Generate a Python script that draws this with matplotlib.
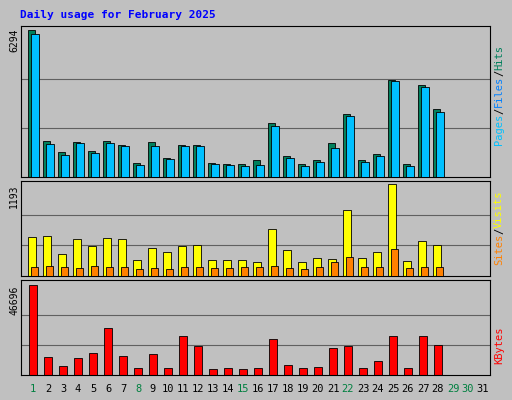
import matplotlib
matplotlib.use("Agg")
import matplotlib.pyplot as plt
import numpy as np

days = np.arange(1, 32)
n = 28
hits = [6294, 1542, 1084, 1500, 1125, 1542, 1375, 584, 1500, 834, 1375, 1375, 584, 542,
        542, 750, 2334, 917, 542, 709, 1459, 2709, 709, 1000, 4168, 542, 3960, 2918]
files = [6150, 1417, 959, 1459, 1042, 1459, 1334, 500, 1334, 792, 1334, 1334, 542, 500,
         459, 500, 2209, 834, 459, 625, 1250, 2626, 625, 917, 4126, 459, 3876, 2793]
visits = [500, 513, 282, 475, 385, 487, 475, 205, 359, 308, 385, 398, 205, 205,
          205, 180, 603, 334, 180, 231, 220, 860, 231, 308, 1193, 192, 449, 398]
sites = [115, 125, 110, 105, 130, 120, 115, 90, 100, 95, 110, 110, 100, 100,
         120, 115, 125, 105, 95, 110, 180, 244, 110, 115, 346, 100, 120, 115]
kbytes = [46696, 9237, 4618, 8724, 11289, 24118, 9750, 3592, 10776, 3592, 20013, 14881,
          3079, 3592, 3079, 3592, 18473, 5131, 3592, 4105, 13855, 14881, 3592, 7184,
          20013, 3592, 20013, 15394]
green_days = [1, 8, 15, 22, 29, 30]

W, H = 512, 400
bg = "#C0C0C0"
fig = plt.figure(figsize=(W / 100, H / 100), dpi=100, facecolor=bg)
mono = "DejaVu Sans Mono"

def ax_at(top, bottom):
    a = fig.add_axes([21 / W, 1 - bottom / H, 469 / W, (bottom - top) / H])
    a.set_facecolor(bg)
    a.set_xlim(0.2, 31.47)
    a.set_xticks([])
    a.tick_params(left=False, labelleft=False)
    return a

x = np.arange(1, n + 1)
grid = "#606060"

a1 = ax_at(26, 177)
a1.set_ylim(0, 6294 * 1.03)
for g in [6294 / 3, 6294 * 2 / 3]:
    a1.axhline(g, color=grid, lw=0.8, zorder=0)
a1.bar(x - 0.1, hits, 0.5, color="#00805C", edgecolor="black", lw=0.6, zorder=2)
a1.bar(x + 0.12, files, 0.5, color="#00C0FF", edgecolor="black", lw=0.6, zorder=3)

a2 = ax_at(181, 276)
a2.set_ylim(0, 1193 * 1.03)
for g in [1193 / 3, 1193 * 2 / 3]:
    a2.axhline(g, color=grid, lw=0.8, zorder=0)
a2.bar(x - 0.05, visits, 0.5, color="#FFFF00", edgecolor="black", lw=0.6, zorder=2)
a2.bar(x + 0.1, sites, 0.5, color="#FF8000", edgecolor="black", lw=0.6, zorder=3)

a3 = ax_at(280, 375)
a3.set_ylim(0, 46696 * 1.05)
for g in [46696 / 3, 46696 * 2 / 3]:
    a3.axhline(g, color=grid, lw=0.8, zorder=0)
a3.bar(x, kbytes, 0.55, color="#FF0000", edgecolor="black", lw=0.6, zorder=2)

for d in days:
    fig.text((21 + (d - 0.2) * 15) / W, 1 - 389 / H, str(d), ha="center", va="center",
             fontsize=7.5, family=mono, color="#008040" if d in green_days else "black")

fig.text(20 / W, 1 - 15 / H, "Daily usage for February 2025", color="#0000FF",
         fontsize=8, family=mono, weight="bold", va="center")
for lab, yy in [("6294", 40), ("1193", 196), ("46696", 300)]:
    fig.text(14 / W, 1 - yy / H, lab, rotation=90, ha="center", va="center",
             fontsize=7, family=mono)

def side(parts, ymid):
    total = sum(len(p) for p, c in parts)
    ch = 6.2
    y = ymid + total * ch / 2
    for p, c in parts:
        fig.text(499 / W, 1 - y / H, p, rotation=90, ha="center", va="bottom",
                 fontsize=7.5, family=mono, color=c)
        y -= len(p) * ch

side([("Pages", "#00C0FF"), ("/", "black"), ("Files", "#0080FF"), ("/", "black"),
      ("Hits", "#00805C")], 95)
side([("Sites", "#FF8000"), ("/", "black"), ("Visits", "#FFFF00")], 228)
side([("KBytes", "#FF0000")], 345)

fig.savefig("out.png", dpi=100, facecolor=bg)
